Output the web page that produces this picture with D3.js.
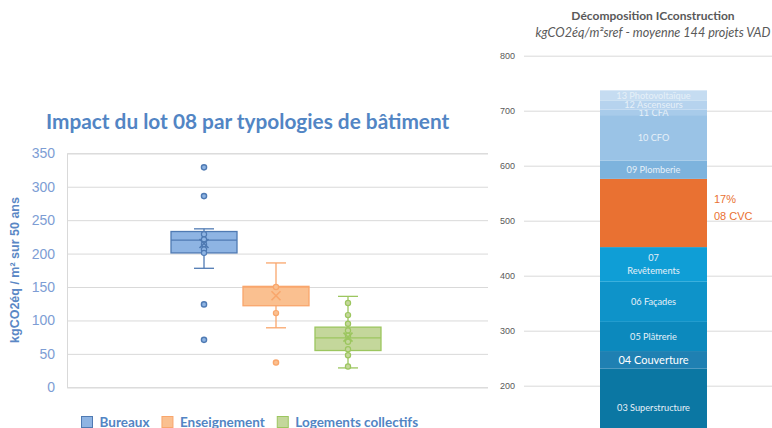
<!DOCTYPE html>
<html>
<head>
<meta charset="utf-8">
<script src="https://cdn.jsdelivr.net/npm/d3@7"></script>
<style>
    body { margin: 0; background: #fff; }
    svg { display: block; }
</style>
</head>
<body>
<div id="chart"></div>
<script>
"use strict";

// left chart: box plots per building type
const categories = ["Bureaux", "Enseignement", "Logements collectifs"];
const q1 = [201, 122, 55];
const medians = [220, 150, 74];
const q3 = [233, 151, 90];
const whiskerLow = [178, 89, 29];
const whiskerHigh = [237, 186, 136];
const means = [215, 137, 75];
const innerPoints = [
    [229, 221, 214, 206, 201],
    [150, 111],
    [126, 108, 95, 85, 77, 68, 57, 48, 31]
];
const outliers = [
    [329, 286, 124, 71],
    [37],
    []
];
const leftTicks = [0, 50, 100, 150, 200, 250, 300, 350];

// right chart: stacked decomposition
const lots = ["01 VRD", "02 Fondations", "03 Superstructure", "04 Couverture",
              "05 Plâtrerie", "06 Façades", "07 Revêtements", "08 CVC",
              "09 Plomberie", "10 CFO", "11 CFA", "12 Ascenseurs",
              "13 Photovoltaïque"];
const lotValues = [30, 57, 144, 32, 53, 73, 63, 124, 33, 83, 10, 16, 19];
const rightTicks = [0, 100, 200, 300, 400, 500, 600, 700, 800];

const boxFill = ["#8eb4e3", "#fac090", "#c4d79b"];
const boxStroke = ["#4f7ab3", "#f9a66c", "#9cc65f"];
const lotColors = ["#0a6a92", "#0a6f99", "#0b77a3", "#1f80b2", "#0c89bd",
                   "#0e93c9", "#0f9ed6", "#e97132", "#7db3dd", "#9ac3e6",
                   "#a8cbea", "#b6d3ee", "#c5dcf1"];

const width = 772;
const height = 428;
const font = "Lato, 'Open Sans', sans-serif";
const arial = "'Liberation Sans', Arial, sans-serif";

const svg = d3.select("#chart").append("svg")
              .attr("width", width)
              .attr("height", height);

// ---------- left chart ----------
const plotLeft = 67;
const plotRight = 488;
const yLeft = d3.scaleLinear()
                .domain([0, 350])
                .range([387.3, 153.3]);
const xBox = d3.scaleBand()
               .domain(categories)
               .range([168, 384])
               .paddingInner(0.0833)
               .paddingOuter(0.0417);

svg.append("text")
   .attr("x", 46)
   .attr("y", 129)
   .attr("font-family", font)
   .attr("font-weight", 700)
   .attr("font-size", 20.8)
   .attr("fill", "#5285c4")
   .text("Impact du lot 08 par typologies de bâtiment");

const leftAxis = svg.append("g")
                    .attr("transform", `translate(${plotLeft}, 0)`)
                    .call(d3.axisLeft(yLeft)
                            .tickValues(leftTicks)
                            .tickSize(-(plotRight - plotLeft))
                            .tickPadding(12));
leftAxis.select(".domain").attr("stroke", "#d9d9d9");
leftAxis.selectAll(".tick line").attr("stroke", "#d9d9d9");
leftAxis.selectAll(".tick text")
        .attr("font-family", arial)
        .attr("font-size", 14)
        .attr("fill", "#7d9dd4");

svg.append("text")
   .attr("transform", "translate(19, 270) rotate(-90)")
   .attr("text-anchor", "middle")
   .attr("font-family", arial)
   .attr("font-weight", 700)
   .attr("font-size", 12.5)
   .attr("fill", "#5a87c5")
   .text("kgCO2éq / m² sur 50 ans");

const boxes = svg.selectAll("g.box")
                 .data(categories)
                 .enter()
                 .append("g")
                 .attr("class", "box");

boxes.each(function (cat, i) {
    const g = d3.select(this);
    const cx = xBox(cat) + xBox.bandwidth() / 2;
    const cap = 10;
    // whiskers
    g.append("line")
     .attr("x1", cx).attr("x2", cx)
     .attr("y1", yLeft(whiskerHigh[i])).attr("y2", yLeft(whiskerLow[i]))
     .attr("stroke", boxStroke[i]).attr("stroke-width", 1.3);
    [whiskerHigh[i], whiskerLow[i]].forEach(v => {
        g.append("line")
         .attr("x1", cx - cap).attr("x2", cx + cap)
         .attr("y1", yLeft(v)).attr("y2", yLeft(v))
         .attr("stroke", boxStroke[i]).attr("stroke-width", 1.3);
    });
    // box
    g.append("rect")
     .attr("x", xBox(cat))
     .attr("y", yLeft(q3[i]))
     .attr("width", xBox.bandwidth())
     .attr("height", yLeft(q1[i]) - yLeft(q3[i]))
     .attr("fill", boxFill[i])
     .attr("stroke", boxStroke[i])
     .attr("stroke-width", 1.3);
    g.append("line")
     .attr("x1", xBox(cat)).attr("x2", xBox(cat) + xBox.bandwidth())
     .attr("y1", yLeft(medians[i])).attr("y2", yLeft(medians[i]))
     .attr("stroke", boxStroke[i]).attr("stroke-width", 1.3);
    // points
    g.selectAll("circle.inner")
     .data(innerPoints[i])
     .enter()
     .append("circle")
     .attr("class", "inner")
     .attr("cx", cx)
     .attr("cy", d => yLeft(d))
     .attr("r", 2.6)
     .attr("fill", boxFill[i])
     .attr("stroke", boxStroke[i])
     .attr("stroke-width", 1.2);
    g.selectAll("circle.out")
     .data(outliers[i])
     .enter()
     .append("circle")
     .attr("class", "out")
     .attr("cx", cx)
     .attr("cy", d => yLeft(d))
     .attr("r", 2.6)
     .attr("fill", boxFill[i])
     .attr("stroke", boxStroke[i])
     .attr("stroke-width", 1.4);
    // mean marker
    const my = yLeft(means[i]);
    const s = 4.5;
    g.append("path")
     .attr("d", `M${cx - s},${my - s}L${cx + s},${my + s}M${cx - s},${my + s}L${cx + s},${my - s}`)
     .attr("stroke", boxStroke[i])
     .attr("stroke-width", 1.6);
});

// legend
const legend = svg.append("g")
                  .attr("transform", "translate(81, 415)");
let lx = 0;
categories.forEach((cat, i) => {
    legend.append("rect")
          .attr("x", lx + 0.5).attr("y", 1.5)
          .attr("width", 11).attr("height", 11)
          .attr("fill", boxFill[i])
          .attr("stroke", boxStroke[i]);
    const t = legend.append("text")
                    .attr("x", lx + 18.5)
                    .attr("y", 12)
                    .attr("font-family", font)
                    .attr("font-weight", 700)
                    .attr("font-size", 13.5)
                    .attr("fill", "#5285c4")
                    .text(cat);
    lx += 18.5 + t.node().getComputedTextLength() + 12;
});

// ---------- right chart ----------
const yRight = d3.scaleLinear()
                 .domain([0, 800])
                 .range([495.7, 55.7]);
const xBar = d3.scaleBand()
               .domain(["VAD"])
               .range([493, 814])
               .padding(0.5);

svg.append("text")
   .attr("x", 653)
   .attr("y", 20)
   .attr("text-anchor", "middle")
   .attr("font-family", font)
   .attr("font-weight", 700)
   .attr("font-size", 12)
   .attr("fill", "#595959")
   .text("Décomposition ICconstruction");
svg.append("text")
   .attr("x", 653)
   .attr("y", 37)
   .attr("text-anchor", "middle")
   .attr("font-family", font)
   .attr("font-style", "italic")
   .attr("font-size", 12.6)
   .attr("fill", "#595959")
   .text("kgCO2éq/m²sref - moyenne 144 projets VAD");

const rightAxis = svg.append("g")
                     .attr("transform", "translate(524, 0)")
                     .call(d3.axisLeft(yRight)
                             .tickValues(rightTicks)
                             .tickSize(-260)
                             .tickPadding(9));
rightAxis.select(".domain").remove();
rightAxis.selectAll(".tick line").attr("stroke", "#d9d9d9");
rightAxis.selectAll(".tick text")
         .attr("font-family", arial)
         .attr("font-size", 9)
         .attr("fill", "#595959");

const stackData = [Object.fromEntries(lots.map((l, i) => [l, lotValues[i]]))];
const series = d3.stack().keys(lots)(stackData);
const total = d3.sum(lotValues);

const segs = svg.selectAll("g.seg")
                .data(series)
                .enter()
                .append("g")
                .attr("class", "seg");
segs.append("rect")
    .attr("x", xBar("VAD"))
    .attr("width", xBar.bandwidth())
    .attr("y", d => yRight(d[0][1]))
    .attr("height", d => yRight(d[0][0]) - yRight(d[0][1]))
    .attr("fill", (d, i) => lotColors[i]);

const barMid = xBar("VAD") + xBar.bandwidth() / 2;
segs.each(function (d, i) {
    const name = lots[i];
    const cy = yRight((d[0][0] + d[0][1]) / 2);
    const g = d3.select(this);
    if (name === "08 CVC") {
        const pct = Math.round(lotValues[i] / total * 100) + "%";
        [pct, name].forEach((t, k) => {
            g.append("text")
             .attr("x", xBar("VAD") + xBar.bandwidth() + 7)
             .attr("y", cy - 14 + k * 17)
             .attr("dy", "0.35em")
             .attr("font-family", arial)
             .attr("font-size", 11)
             .attr("fill", "#e97132")
             .text(t);
        });
        return;
    }
    const big = name === "04 Couverture";
    const lines = name === "07 Revêtements" ? ["07", "Revêtements"] : [name];
    lines.forEach((t, k) => {
        g.append("text")
         .attr("x", barMid)
         .attr("y", cy + (k - (lines.length - 1) / 2) * 12.6)
         .attr("dy", "0.35em")
         .attr("text-anchor", "middle")
         .attr("font-family", font)
         .attr("font-size", big ? 11 : 9.2)
         .attr("fill", big ? "#ffffff" : "#e6f0f8")
         .text(t);
    });
});
</script>
</body>
</html>
